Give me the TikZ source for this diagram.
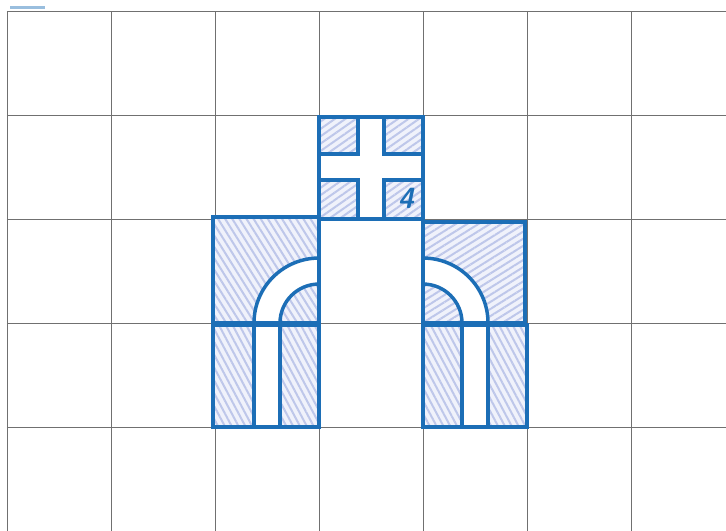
\documentclass[tikz,border=0pt]{standalone}
\usepackage{tikz}
\usetikzlibrary{patterns.meta}

\definecolor{tileblue}{RGB}{28,110,182}
\definecolor{hatchline}{RGB}{190,199,234}
\definecolor{hatchbg}{RGB}{240,242,251}
\definecolor{gridgray}{RGB}{112,112,112}

\begin{document}
\begin{tikzpicture}[
  x=2cm, y=2cm,
  gridline/.style={draw=gridgray, line width=0.5pt},
  tileedge/.style={draw=tileblue, line width=1.9pt},
  hatch/.style={preaction={fill=hatchbg}, pattern={Lines[angle=#1, distance=3.3pt, line width=1.1pt]}, pattern color=hatchline},
  tilenum/.style={font=\sffamily\itshape\bfseries\fontsize{16}{18}\selectfont, text=tileblue, inner sep=0pt}
]
\useasboundingbox (-0.067,0.0096) rectangle (6.913,5.106);

% Grid
\draw[gridline, step=2cm] (0,-0.1) grid (7.1,5);

% Small mark at the top
\fill[tileblue!45] (0.03,5.02) rectangle (0.37,5.045);

% Cross tile
\fill[hatch=35] (3,3) rectangle (4,4);
\fill[white] (3.375,3) rectangle (3.625,4);
\fill[white] (3,3.375) rectangle (4,3.625);
\draw[tileedge] (3,3) rectangle (4,3.98);
\draw[tileedge] (3.375,3.98) |- (3,3.625);
\draw[tileedge] (3.625,3.98) |- (4,3.625);
\draw[tileedge] (3.375,3) |- (3,3.375);
\draw[tileedge] (3.625,3) |- (4,3.375);
\node[tilenum] (num) at (3.835,3.2) {4};

% Left bend tile
\coordinate (lbend) at (3,2);
\fill[hatch=-58] (1.98,2) rectangle (3,3.02);
\fill[white] (2.375,2) arc[start angle=180, end angle=90, radius=0.625]
  -- (3,2.375) arc[start angle=90, end angle=180, radius=0.375] -- cycle;
\draw[tileedge] (1.98,2) rectangle (3,3.02);
\draw[tileedge] (2.375,2) arc[start angle=180, end angle=90, radius=0.625];
\draw[tileedge] (2.625,2) arc[start angle=180, end angle=90, radius=0.375];

% Right bend tile
\coordinate (rbend) at (4,2);
\fill[hatch=32] (4,2) rectangle (4.98,2.97);
\fill[white] (4.625,2) arc[start angle=0, end angle=90, radius=0.625]
  -- (4,2.375) arc[start angle=90, end angle=0, radius=0.375] -- cycle;
\draw[tileedge] (4,2) rectangle (4.98,2.97);
\draw[tileedge] (4.625,2) arc[start angle=0, end angle=90, radius=0.625];
\draw[tileedge] (4.375,2) arc[start angle=0, end angle=90, radius=0.375];

% Straight tiles
\fill[hatch=-62] (1.98,1) rectangle (3,1.98);
\fill[white] (2.375,1) rectangle (2.625,1.98);
\draw[tileedge] (1.98,1) rectangle (3,1.98);
\draw[tileedge] (2.375,1) -- (2.375,1.98);
\draw[tileedge] (2.625,1) -- (2.625,1.98);

\fill[hatch=-62] (4,1) rectangle (5,1.98);
\fill[white] (4.375,1) rectangle (4.625,1.98);
\draw[tileedge] (4,1) rectangle (5,1.98);
\draw[tileedge] (4.375,1) -- (4.375,1.98);
\draw[tileedge] (4.625,1) -- (4.625,1.98);

\end{tikzpicture}
\end{document}
